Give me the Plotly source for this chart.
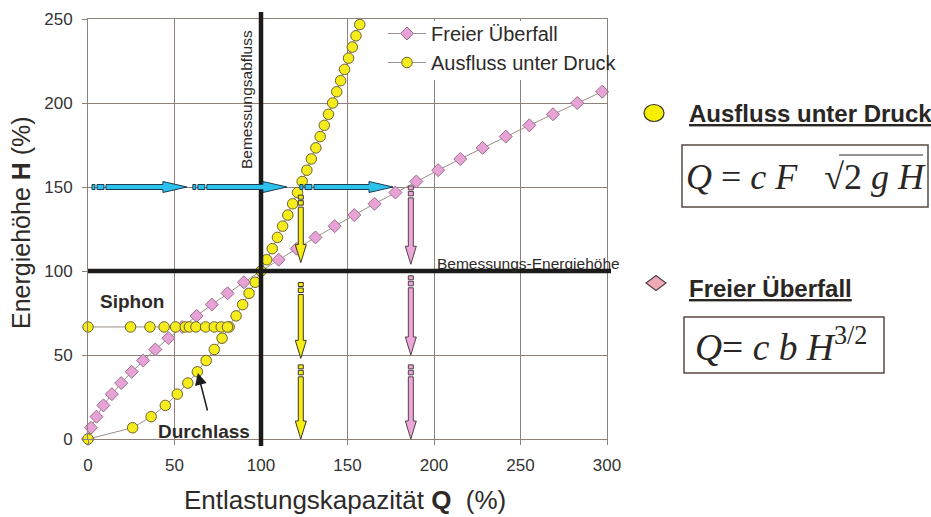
import plotly.graph_objects as go

# ---------------- figure geometry ----------------
FIG_W, FIG_H = 931, 517
M_L, M_R, M_T, M_B = 88, 324, 19, 78
PLOT_W = FIG_W - M_L - M_R
PLOT_H = FIG_H - M_T - M_B
X_RANGE = [0, 300]
Y_RANGE = [0, 250]
X_TICKS = [0, 50, 100, 150, 200, 250, 300]
Y_TICKS = [0, 50, 100, 150, 200, 250]

# ---------------- data ----------------
# Freier Überfall (pink diamonds)
h_frei = [0, 6.7, 13.3, 20, 26.7, 33.3, 40, 46.7, 53.3, 60, 66.7, 73.3, 80, 86.7, 93.3,
          100, 106.7, 113.3, 120, 126.7, 133.3, 140, 146.7, 153.3, 160, 166.7, 173.3,
          180, 186.7, 193.3, 200, 206.7]
q_frei = [0, 1.7, 4.9, 8.9, 13.8, 19.2, 25.3, 31.9, 38.9, 46.5, 54.4, 62.8, 71.6, 80.7, 90.1,
          100, 110.2, 120.6, 131.5, 142.6, 153.9, 165.6, 177.7, 189.8, 202.4, 215.2, 228.1,
          241.5, 255.1, 268.8, 282.8, 297.2]

# Ausfluss unter Druck (yellow circles) - Durchlass curve
h_druck = [0, 6.7, 13.3, 20, 26.7, 33.3, 40, 46.7, 53.3, 60, 66.7, 73.3, 80, 86.7, 93.3,
           100, 106.7, 113.3, 120, 126.7, 133.3, 140, 146.7, 153.3, 160, 166.7, 173.3,
           180, 186.7, 193.3, 200, 206.7, 213.3, 220, 226.7, 233.3, 240, 246.7]
q_druck = [0, 25.8, 36.5, 44.7, 51.6, 57.7, 63.2, 68.3, 73.0, 77.5, 81.6, 85.6, 89.4, 93.1,
           96.6, 100, 103.3, 106.5, 109.5, 112.5, 115.5, 118.3, 121.1, 123.8, 126.5, 129.1,
           131.7, 134.2, 136.6, 139.0, 141.4, 143.8, 146.0, 148.3, 150.6, 152.8, 154.9, 157.1]

# Siphon branch (yellow circles at constant head)
q_siphon = [0, 24.6, 35.8, 44.0, 50.6, 56.2, 58.6, 62.4, 68.0, 73.0, 77.0, 80.6]
h_siphon = [66.7] * len(q_siphon)

# design values
Q_DESIGN = 100
H_DESIGN = 100

# arrows (blue: horizontal at H=150, yellow/pink: vertical)
BLUE_H = 150
blue_q_start = [10.4, 68.7, 130.6]
blue_q_tip = [57.2, 115.0, 176.3]
YELLOW_Q = 123
yellow_h_start = [138, 86, 37]
yellow_h_tip = [105, 48, 0]
PINK_Q = 186.6
pink_h_start = [143.5, 90, 37]
pink_h_tip = [104, 50, 0]

# ---------------- helpers ----------------
UX = (X_RANGE[1] - X_RANGE[0]) / PLOT_W   # data units per pixel (x)
UY = (Y_RANGE[1] - Y_RANGE[0]) / PLOT_H   # data units per pixel (y)


def paper_x(px):
    return (px - M_L) / PLOT_W


def paper_y(py):
    return (FIG_H - M_B - py) / PLOT_H


SANS = "Liberation Sans, Arial, sans-serif"
SERIF = "Liberation Serif, Times New Roman, serif"
TXT = "#2e2a28"
GRID = "#8e827a"

shapes = []


def rect(x0, x1, y0, y1, fill, line):
    shapes.append(dict(type="rect", xref="x", yref="y", x0=x0, x1=x1, y0=y0, y1=y1,
                       fillcolor=fill, line=dict(color=line, width=1), layer="above"))


def h_arrow(y, x0, x1, fill, line, sw=2.5, hw=5.5, hl=24):
    s, h, L = sw * UY, hw * UY, hl * UX
    xh = x1 - L
    path = (f"M{x0},{y - s} L{xh},{y - s} L{xh},{y - h} L{x1},{y} "
            f"L{xh},{y + h} L{xh},{y + s} L{x0},{y + s} Z")
    shapes.append(dict(type="path", xref="x", yref="y", path=path, fillcolor=fill,
                       line=dict(color=line, width=1), layer="above"))
    rect(x0 - 9 * UX, x0 - 2 * UX, y - 2.5 * UY, y + 2.5 * UY, fill, line)
    rect(x0 - 14 * UX, x0 - 11 * UX, y - 2.5 * UY, y + 2.5 * UY, fill, line)


def v_arrow(x, y0, y1, fill, line, sw=2.5, hw=5.5, hl=18):
    s, h, L = sw * UX, hw * UX, hl * UY
    yh = y1 + L
    path = (f"M{x - s},{y0} L{x + s},{y0} L{x + s},{yh} L{x + h},{yh} L{x},{y1} "
            f"L{x - h},{yh} L{x - s},{yh} Z")
    shapes.append(dict(type="path", xref="x", yref="y", path=path, fillcolor=fill,
                       line=dict(color=line, width=1), layer="above"))
    rect(x - 2.5 * UX, x + 2.5 * UX, y0 + 2 * UY, y0 + 6.5 * UY, fill, line)
    rect(x - 2.5 * UX, x + 2.5 * UX, y0 + 8 * UY, y0 + 12 * UY, fill, line)


# ---------------- traces ----------------
fig = go.Figure()
fig.add_trace(go.Scatter(
    x=q_frei, y=h_frei, mode="lines+markers", name="Freier Überfall",
    line=dict(color="#9c908a", width=1),
    marker=dict(symbol="diamond", size=10, color="#e7a3d6", line=dict(color="#9a6f8e", width=1)),
    cliponaxis=False, legendgroup="a"))
fig.add_trace(go.Scatter(
    x=q_druck, y=h_druck, mode="lines+markers", name="Ausfluss unter Druck",
    line=dict(color="#9c908a", width=1),
    marker=dict(symbol="circle", size=10.5, color="#f4ec1c", line=dict(color="#6f6230", width=1)),
    cliponaxis=False, legendgroup="b"))
fig.add_trace(go.Scatter(
    x=q_siphon, y=h_siphon, mode="lines+markers", showlegend=False,
    line=dict(color="#9c908a", width=1),
    marker=dict(symbol="circle", size=10.5, color="#f4ec1c", line=dict(color="#6f6230", width=1)),
    cliponaxis=False))

# ---------------- white patch behind legend (keeps top grid line visible) ----------------
shapes.append(dict(type="rect", xref="paper", yref="paper",
                   x0=paper_x(381), x1=paper_x(603), y0=paper_y(80), y1=paper_y(21),
                   fillcolor="white", line=dict(width=0), layer="above"))

# ---------------- thick design lines ----------------
shapes.append(dict(type="line", xref="x", yref="paper", x0=Q_DESIGN, x1=Q_DESIGN,
                   y0=paper_y(446), y1=paper_y(12), line=dict(color="#1b1b1b", width=4.5),
                   layer="above"))
shapes.append(dict(type="line", xref="paper", yref="y", x0=0, x1=paper_x(611),
                   y0=H_DESIGN, y1=H_DESIGN, line=dict(color="#1b1b1b", width=4.5),
                   layer="above"))

# ---------------- arrows ----------------
for a, b in zip(blue_q_start, blue_q_tip):
    h_arrow(BLUE_H, a, b, "#2cc2ee", "#1c3c50")
for a, b in zip(yellow_h_start, yellow_h_tip):
    v_arrow(YELLOW_Q, a, b, "#f6ee10", "#3a3428")
for a, b in zip(pink_h_start, pink_h_tip):
    v_arrow(PINK_Q, a, b, "#eea6d8", "#4e4048")

# ---------------- right panel ----------------
shapes.append(dict(type="circle", xref="paper", yref="paper",
                   xanchor=paper_x(654), yanchor=paper_y(113), xsizemode="pixel", ysizemode="pixel",
                   x0=-10, x1=10, y0=-8.5, y1=8.5, fillcolor="#f6f000",
                   line=dict(color="#3a3428", width=1.2)))
shapes.append(dict(type="path", xref="paper", yref="paper",
                   xanchor=paper_x(656), yanchor=paper_y(283), xsizemode="pixel", ysizemode="pixel",
                   path="M-10,0 L0,-7.5 L10,0 L0,7.5 Z", fillcolor="#f0a9b6",
                   line=dict(color="#4e4048", width=1.2)))
# formula boxes
shapes.append(dict(type="rect", xref="paper", yref="paper",
                   x0=paper_x(682), x1=paper_x(928), y0=paper_y(207), y1=paper_y(145),
                   line=dict(color="#5a4a42", width=1.5)))
shapes.append(dict(type="rect", xref="paper", yref="paper",
                   x0=paper_x(684), x1=paper_x(884), y0=paper_y(373), y1=paper_y(317),
                   line=dict(color="#5a4a42", width=1.5)))
# radical overline
shapes.append(dict(type="line", xref="paper", yref="paper",
                   x0=paper_x(839), x1=paper_x(923), y0=paper_y(155), y1=paper_y(155),
                   line=dict(color="#2a2a2a", width=1.2)))


def ann(px, py, text, size, family=SANS, color=TXT, angle=0, xanchor="center"):
    return dict(xref="paper", yref="paper", x=paper_x(px), y=paper_y(py), xanchor=xanchor,
                yanchor="middle", text=text, showarrow=False, textangle=angle,
                font=dict(family=family, size=size, color=color))


NB = "\u00a0"
annotations = [
    ann(687, 114, "<b><u>Ausfluss unter Druck</u></b>", 24, color="#2a2624", xanchor="left"),
    ann(687, 288, "<b><u>Freier Überfall</u></b>", 24, color="#2a2624", xanchor="left"),
    ann(806, 177, f"<i>Q</i> = <i>c</i> <i>F</i>{NB}{NB}{NB}√2 <i>g</i> <i>H</i>", 36,
        family=SERIF, color="#2a2624"),
    ann(781, 344, "<i>Q</i>= <i>c</i> <i>b</i> <i>H</i><sup>3/2</sup>", 37.5, family=SERIF,
        color="#2a2624"),
    # in-plot labels
    ann(247, 100, "Bemessungsabfluss", 15.5, angle=-90),
    ann(622, 263, "Bemessungs-Energiehöhe", 15.5, xanchor="right"),
    ann(132, 301, "<b>Siphon</b>", 19),
    ann(204, 431, "<b>Durchlass</b>", 19),
    dict(xref="x", yref="y", x=63.5, y=39.3, ax=10, ay=39, text="", showarrow=True,
         arrowhead=2, arrowsize=1.6, arrowwidth=1.5, arrowcolor="#1b1b1b", standoff=0),
    # axis titles
    ann(345, 500, f"Entlastungskapazität <b>Q</b>{NB}{NB}(%)", 26),
    ann(21, 223, "Energiehöhe <b>H</b> (%)", 25, angle=-90),
]

axis_common = dict(showgrid=True, gridcolor=GRID, gridwidth=1, showline=True, linecolor=GRID,
                   linewidth=1, mirror=True, ticks="outside", ticklen=5, tickcolor=GRID,
                   zeroline=False, tickfont=dict(family=SANS, size=17, color="#333333"))

fig.update_layout(
    width=FIG_W, height=FIG_H,
    margin=dict(l=M_L, r=M_R, t=M_T, b=M_B, autoexpand=False),
    paper_bgcolor="white", plot_bgcolor="white",
    xaxis=dict(range=X_RANGE, tickvals=X_TICKS, ticklabelstandoff=6, **axis_common),
    yaxis=dict(range=Y_RANGE, tickvals=Y_TICKS, ticklabelstandoff=6, **axis_common),
    legend=dict(x=paper_x(383), y=paper_y(14), xanchor="left", yanchor="top",
                bgcolor="rgba(0,0,0,0)", font=dict(family=SANS, size=20, color=TXT),
                itemwidth=38, tracegroupgap=0),
    shapes=shapes, annotations=annotations,
    showlegend=True,
)

fig.write_html("out.html", config={"displayModeBar": False},
               post_script="document.body.style.margin='0';")
